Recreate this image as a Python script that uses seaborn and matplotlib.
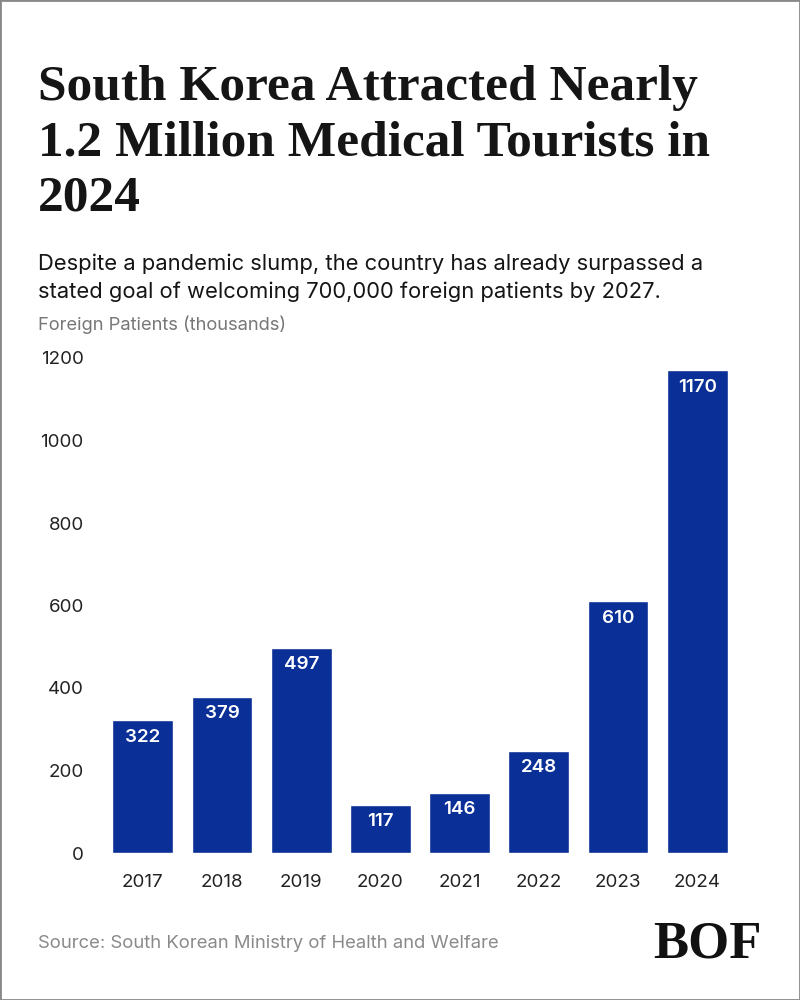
import matplotlib
matplotlib.use("Agg")
import matplotlib.pyplot as plt
import seaborn as sns
import pandas as pd

# data
years = ["2017", "2018", "2019", "2020", "2021", "2022", "2023", "2024"]
patients = [322, 379, 497, 117, 146, 248, 610, 1170]
y_ticks = [0, 200, 400, 600, 800, 1000, 1200]

title = "South Korea Attracted Nearly\n1.2 Million Medical Tourists in\n2024"
subtitle = ("Despite a pandemic slump, the country has already surpassed a\n"
            "stated goal of welcoming 700,000 foreign patients by 2027.")
axis_note = "Foreign Patients (thousands)"
source = "Source: South Korean Ministry of Health and Welfare"

sns.set_theme(style="white")
plt.rcParams['font.family'] = ['Inter', 'DejaVu Sans']

BAR_COLOR = "#0a2f96"

df = pd.DataFrame({"year": years, "patients": patients})

fig = plt.figure(figsize=(8, 10), dpi=100)
ax = fig.add_axes([0.129, 0.147, 0.792, 0.495])

sns.barplot(data=df, x="year", y="patients", color=BAR_COLOR, saturation=1,
            width=0.77, ax=ax)

ax.set_ylim(0, 1200)
ax.set_yticks(y_ticks)
ax.set_xlim(-0.5, len(years) - 0.5)
ax.set_xlabel("")
ax.set_ylabel("")
ax.tick_params(axis="both", length=0, labelsize=13.5, colors="#222222")
ax.tick_params(axis="y", pad=14)
ax.tick_params(axis="x", pad=15)
sns.despine(ax=ax, left=True, bottom=True)

# value labels inside bar tops
for i, v in enumerate(patients):
    ax.annotate(str(v), (i, v), xytext=(0, -6), textcoords="offset points",
                ha="center", va="top", color="white", fontsize=13.5,
                fontweight="semibold")

# header text
fig.text(0.047, 0.935, title, family="Liberation Serif", fontsize=37,
         fontweight="bold", va="top", ha="left", color="#151515",
         linespacing=1.27)
fig.text(0.047, 0.746, subtitle, fontsize=15.8, va="top", ha="left",
         color="#151515", linespacing=1.42)
fig.text(0.047, 0.684, axis_note, fontsize=13.2, va="top", ha="left",
         color="#777777")
fig.text(0.047, 0.057, source, fontsize=13.3, va="center", ha="left",
         color="#8a8a8a")
fig.text(0.952, 0.056, "BOF", family="Liberation Serif", fontsize=38,
         fontweight="bold", va="center", ha="right", color="#111111")

# thin grey frame
fig.patches.append(plt.Rectangle((0, 0), 1, 1, transform=fig.transFigure,
                                 fill=False, edgecolor="#888888", lw=2))

fig.savefig("out.png", dpi=100, facecolor="white")
